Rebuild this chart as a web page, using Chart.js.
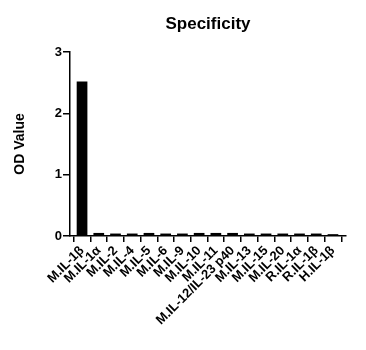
<!DOCTYPE html>
<html>
<head>
<meta charset="utf-8">
<script src="https://cdn.jsdelivr.net/npm/chart.js@4"></script>
<style>
html,body{margin:0;padding:0;background:#fff;}
canvas{display:block;}
</style>
</head>
<body>
<canvas id="c" width="366" height="350"></canvas>
<script>
const categories = ["M.IL-1β","M.IL-1α","M.IL-2","M.IL-4","M.IL-5","M.IL-6","M.IL-9","M.IL-10","M.IL-11","M.IL-12/IL-23 p40","M.IL-13","M.IL-15","M.IL-20","R.IL-1α","R.IL-1β","H.IL-1β"];
const odValues = [2.52,0.05,0.04,0.04,0.05,0.04,0.04,0.05,0.05,0.05,0.04,0.04,0.04,0.04,0.04,0.03];
const yTicks = [0,1,2,3];
const chartTitle = "Specificity";
const yTitle = "OD Value";

const FONT = "'Liberation Sans', Arial, sans-serif";

const titlePlugin = {
  id: 'centerTitle',
  afterDraw(chart) {
    const ctx = chart.ctx;
    const a = chart.chartArea;
    ctx.save();
    ctx.fillStyle = '#000';
    ctx.font = "bold 17px " + FONT;
    ctx.textAlign = 'center';
    ctx.textBaseline = 'middle';
    ctx.fillText(chartTitle, (a.left + a.right) / 2, 24);
    ctx.restore();
  }
};

new Chart(document.getElementById('c'), {
  type: 'bar',
  data: {
    datasets: [{
      data: odValues.map((v, i) => ({x: i, y: v})),
      backgroundColor: '#000',
      borderWidth: 0,
      barPercentage: 0.64,
      categoryPercentage: 1
    }]
  },
  plugins: [titlePlugin],
  options: {
    responsive: false,
    devicePixelRatio: 1,
    animation: false,
    layout: { padding: { top: 52, right: 20, left: 0, bottom: 0 } },
    plugins: { legend: { display: false }, tooltip: { enabled: false }, title: { display: false } },
    scales: {
      x: {
        type: 'linear',
        min: -0.72,
        max: 15.78,
        offset: false,
        afterFit(s) { s.height = 114; },
        ticks: {
          stepSize: 1,
          includeBounds: false,
          autoSkip: false,
          minRotation: 45,
          maxRotation: 45,
          color: '#000',
          padding: 1,
          font: { family: FONT, size: 13, weight: 'bold' },
          callback: (v) => categories[v] !== undefined && Number.isInteger(v) ? categories[v] : ''
        },
        grid: { display: true, drawOnChartArea: false, drawTicks: true, tickLength: 6, color: '#000', lineWidth: 1.5 },
        border: { display: true, color: '#000', width: 1.5 }
      },
      y: {
        min: 0,
        max: 3,
        afterFit(s) { s.width = 70; },
        afterBuildTicks(s) { s.ticks = yTicks.map(v => ({value: v})); },
        ticks: {
          stepSize: 1,
          color: '#000',
          padding: 1,
          font: { family: FONT, size: 13, weight: 'bold' }
        },
        grid: { display: true, drawOnChartArea: false, drawTicks: true, tickLength: 7, color: '#000', lineWidth: 1.5 },
        border: { display: true, color: '#000', width: 1.5 },
        title: {
          display: true,
          text: yTitle,
          color: '#000',
          font: { family: FONT, size: 14, weight: 'bold' },
          padding: { top: 12, bottom: 0 }
        }
      }
    }
  }
});
</script>
</body>
</html>
